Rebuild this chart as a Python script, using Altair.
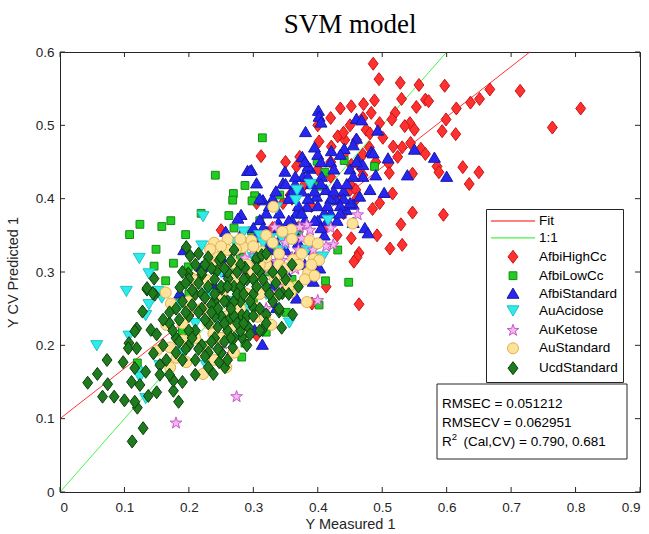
import altair as alt
import pandas as pd

# ---------------- data ----------------
groups = ["AfbiHighCc", "AfbiLowCc", "AfbiStandard", "AuAcidose",
          "AuKetose", "AuStandard", "UcdStandard"]
legend_items = ["Fit", "1:1"] + groups

fit_x = [0.0, 0.729]
fit_y = [0.100, 0.600]
one_x = [0.0, 0.6]
one_y = [0.0, 0.6]

x_ticks = [0.0, 0.1, 0.2, 0.3, 0.4, 0.5, 0.6, 0.7, 0.8, 0.9]
y_ticks = [0.0, 0.1, 0.2, 0.3, 0.4, 0.5, 0.6]

afbi_high = [
    (0.486, 0.584), (0.495, 0.563), (0.528, 0.558), (0.557, 0.555), (0.597, 0.554),
    (0.667, 0.549), (0.714, 0.547), (0.808, 0.523), (0.764, 0.497), (0.530, 0.536),
    (0.567, 0.535), (0.572, 0.533), (0.553, 0.525), (0.615, 0.523), (0.637, 0.531),
    (0.651, 0.536), (0.488, 0.534), (0.471, 0.529), (0.452, 0.526), (0.483, 0.517),
    (0.520, 0.517), (0.515, 0.508), (0.599, 0.508), (0.543, 0.503), (0.535, 0.499),
    (0.550, 0.494), (0.593, 0.492), (0.614, 0.488), (0.496, 0.503), (0.475, 0.494),
    (0.481, 0.489), (0.501, 0.483), (0.517, 0.471), (0.531, 0.470), (0.544, 0.476),
    (0.560, 0.468), (0.567, 0.461), (0.524, 0.457), (0.510, 0.448), (0.511, 0.435),
    (0.547, 0.434), (0.585, 0.444), (0.588, 0.436), (0.625, 0.443), (0.650, 0.436),
    (0.635, 0.420), (0.516, 0.407), (0.496, 0.394), (0.485, 0.386), (0.547, 0.381),
    (0.595, 0.378), (0.529, 0.365), (0.492, 0.350), (0.512, 0.332), (0.531, 0.337),
    (0.464, 0.326), (0.461, 0.320), (0.452, 0.346), (0.464, 0.256), (0.456, 0.314),
    (0.413, 0.280), (0.391, 0.257), (0.346, 0.394), (0.357, 0.405), (0.312, 0.458),
    (0.402, 0.478), (0.350, 0.450), (0.435, 0.523), (0.431, 0.485), (0.442, 0.480),
    (0.421, 0.471), (0.452, 0.446), (0.465, 0.444), (0.450, 0.412), (0.459, 0.412),
    (0.470, 0.432), (0.372, 0.457), (0.367, 0.444), (0.250, 0.357), (0.305, 0.394),
    (0.305, 0.214), (0.250, 0.190), (0.313, 0.296), (0.380, 0.420), (0.400, 0.440),
    (0.420, 0.430), (0.430, 0.400), (0.440, 0.380), (0.410, 0.360), (0.390, 0.390),
    (0.450, 0.420), (0.460, 0.400), (0.470, 0.460), (0.440, 0.460), (0.420, 0.450),
    (0.360, 0.400), (0.330, 0.360), (0.300, 0.340), (0.370, 0.360), (0.430, 0.350),
    (0.480, 0.470), (0.460, 0.480), (0.490, 0.450), (0.450, 0.500), (0.400, 0.500),
    (0.420, 0.510), (0.470, 0.510), (0.440, 0.490),
]

afbi_low = [
    (0.314, 0.483), (0.241, 0.432), (0.287, 0.418), (0.269, 0.407), (0.268, 0.398),
    (0.302, 0.404), (0.298, 0.397), (0.219, 0.380), (0.262, 0.377), (0.172, 0.370),
    (0.158, 0.362), (0.124, 0.365), (0.108, 0.351), (0.195, 0.351), (0.149, 0.331),
    (0.146, 0.308), (0.176, 0.312), (0.297, 0.356), (0.341, 0.405), (0.399, 0.451),
    (0.402, 0.417), (0.441, 0.452), (0.411, 0.436), (0.431, 0.330), (0.488, 0.444),
    (0.412, 0.288), (0.448, 0.286), (0.402, 0.255), (0.164, 0.288), (0.287, 0.203),
    (0.282, 0.184), (0.120, 0.176), (0.351, 0.245), (0.320, 0.218), (0.186, 0.265),
    (0.199, 0.307), (0.220, 0.300), (0.240, 0.260), (0.260, 0.280), (0.300, 0.260),
    (0.320, 0.300), (0.350, 0.350), (0.380, 0.330), (0.250, 0.240), (0.200, 0.270),
    (0.280, 0.320), (0.340, 0.320), (0.360, 0.290), (0.190, 0.220), (0.230, 0.200),
    (0.270, 0.360), (0.310, 0.370), (0.210, 0.290), (0.250, 0.310), (0.270, 0.300),
    (0.330, 0.330), (0.370, 0.350), (0.230, 0.280),
]

afbi_std = [
    (0.401, 0.520), (0.402, 0.512), (0.405, 0.504), (0.381, 0.491), (0.460, 0.509),
    (0.468, 0.507), (0.493, 0.493), (0.421, 0.465), (0.441, 0.468), (0.460, 0.482),
    (0.455, 0.473), (0.483, 0.464), (0.509, 0.455), (0.550, 0.467), (0.581, 0.456),
    (0.600, 0.430), (0.539, 0.432), (0.481, 0.412), (0.503, 0.408), (0.473, 0.360),
    (0.478, 0.353), (0.393, 0.287), (0.403, 0.305), (0.367, 0.264), (0.305, 0.421),
    (0.297, 0.439), (0.349, 0.437), (0.346, 0.421), (0.377, 0.430), (0.388, 0.441),
    (0.406, 0.430), (0.413, 0.412), (0.291, 0.438), (0.295, 0.438), (0.281, 0.378),
    (0.276, 0.373), (0.257, 0.355), (0.192, 0.330), (0.220, 0.307), (0.315, 0.398),
    (0.376, 0.457), (0.385, 0.444), (0.310, 0.371), (0.321, 0.355), (0.339, 0.367),
    (0.367, 0.380), (0.383, 0.389), (0.398, 0.403), (0.429, 0.398), (0.444, 0.385),
    (0.455, 0.367), (0.362, 0.357), (0.336, 0.339), (0.315, 0.330), (0.305, 0.348),
    (0.314, 0.201), (0.268, 0.194), (0.302, 0.221), (0.336, 0.251), (0.186, 0.271),
    (0.287, 0.232), (0.486, 0.462), (0.462, 0.453), (0.470, 0.446), (0.490, 0.432),
    (0.465, 0.403), (0.455, 0.392), (0.450, 0.394), (0.330, 0.400), (0.340, 0.380),
    (0.360, 0.410), (0.370, 0.390), (0.380, 0.370), (0.390, 0.420), (0.400, 0.390),
    (0.410, 0.380), (0.420, 0.400), (0.430, 0.420), (0.440, 0.410), (0.450, 0.440),
    (0.420, 0.450), (0.400, 0.460), (0.380, 0.450), (0.360, 0.350), (0.350, 0.330),
    (0.330, 0.310), (0.310, 0.290), (0.290, 0.310), (0.270, 0.330), (0.280, 0.350),
    (0.300, 0.360), (0.320, 0.380), (0.340, 0.360), (0.370, 0.340), (0.390, 0.330),
    (0.410, 0.350), (0.430, 0.370), (0.460, 0.450), (0.470, 0.430), (0.350, 0.420),
    (0.310, 0.400), (0.260, 0.300), (0.240, 0.280), (0.250, 0.320), (0.290, 0.270),
    (0.330, 0.280), (0.350, 0.300), (0.380, 0.310), (0.400, 0.370), (0.420, 0.380),
    (0.440, 0.400), (0.360, 0.370), (0.320, 0.340), (0.325, 0.390), (0.335, 0.410),
    (0.355, 0.400), (0.365, 0.420), (0.375, 0.410), (0.385, 0.400), (0.395, 0.410),
    (0.405, 0.420), (0.415, 0.390), (0.425, 0.410), (0.435, 0.390), (0.445, 0.420),
    (0.455, 0.430), (0.345, 0.350), (0.355, 0.370), (0.375, 0.380), (0.395, 0.370),
    (0.405, 0.360), (0.415, 0.370), (0.435, 0.380), (0.365, 0.430), (0.385, 0.430),
    (0.405, 0.450), (0.425, 0.440), (0.435, 0.460), (0.395, 0.470), (0.315, 0.360),
    (0.325, 0.330), (0.345, 0.310), (0.365, 0.320),
]

au_acidose = [
    (0.222, 0.376), (0.220, 0.336), (0.123, 0.319), (0.368, 0.412), (0.366, 0.398),
    (0.388, 0.420), (0.416, 0.371), (0.271, 0.341), (0.326, 0.346), (0.351, 0.339),
    (0.383, 0.330), (0.408, 0.321), (0.336, 0.388), (0.103, 0.274), (0.057, 0.200),
    (0.138, 0.298), (0.152, 0.274), (0.138, 0.256), (0.133, 0.241), (0.107, 0.213),
    (0.120, 0.164), (0.133, 0.128), (0.124, 0.157), (0.155, 0.173), (0.356, 0.231),
    (0.279, 0.237), (0.269, 0.209), (0.243, 0.235), (0.227, 0.173), (0.186, 0.255),
    (0.202, 0.246), (0.158, 0.265), (0.250, 0.300), (0.280, 0.280), (0.300, 0.320),
    (0.320, 0.270), (0.290, 0.250), (0.260, 0.260), (0.310, 0.350), (0.340, 0.330),
    (0.330, 0.300), (0.270, 0.310), (0.230, 0.270), (0.210, 0.230), (0.240, 0.220),
    (0.190, 0.190), (0.290, 0.335), (0.315, 0.340), (0.345, 0.345), (0.365, 0.355),
    (0.305, 0.325), (0.285, 0.355),
]

au_ketose = [
    (0.180, 0.094), (0.274, 0.130), (0.253, 0.202), (0.400, 0.261), (0.323, 0.304),
    (0.365, 0.304), (0.323, 0.272), (0.279, 0.300), (0.462, 0.378), (0.424, 0.337),
    (0.413, 0.335), (0.383, 0.364), (0.388, 0.357), (0.375, 0.346), (0.370, 0.330),
    (0.344, 0.316), (0.336, 0.314), (0.333, 0.361), (0.372, 0.361), (0.393, 0.330),
    (0.300, 0.330), (0.287, 0.319), (0.350, 0.340), (0.310, 0.290), (0.290, 0.270),
    (0.340, 0.280), (0.300, 0.310), (0.260, 0.310), (0.360, 0.320), (0.420, 0.360),
    (0.270, 0.260), (0.320, 0.250),
]

au_std = [
    (0.331, 0.389), (0.359, 0.358), (0.387, 0.343), (0.400, 0.339), (0.394, 0.318),
    (0.402, 0.316), (0.362, 0.317), (0.297, 0.343), (0.284, 0.334), (0.273, 0.331),
    (0.239, 0.340), (0.233, 0.331), (0.269, 0.312), (0.313, 0.328), (0.454, 0.366),
    (0.385, 0.299), (0.383, 0.259), (0.333, 0.292), (0.349, 0.290), (0.304, 0.289),
    (0.367, 0.280), (0.358, 0.272), (0.331, 0.266), (0.305, 0.251), (0.328, 0.228),
    (0.164, 0.272), (0.165, 0.228), (0.172, 0.257), (0.204, 0.292), (0.212, 0.289),
    (0.227, 0.289), (0.199, 0.248), (0.196, 0.177), (0.171, 0.170), (0.222, 0.161),
    (0.191, 0.207), (0.307, 0.239), (0.318, 0.239), (0.269, 0.223), (0.258, 0.170),
    (0.238, 0.216), (0.227, 0.195), (0.171, 0.197), (0.181, 0.183), (0.150, 0.193),
    (0.250, 0.270), (0.270, 0.290), (0.290, 0.270), (0.260, 0.240), (0.280, 0.250),
    (0.300, 0.300), (0.320, 0.310), (0.240, 0.310), (0.220, 0.250), (0.210, 0.210),
    (0.230, 0.230), (0.200, 0.260), (0.290, 0.220), (0.310, 0.270), (0.340, 0.310),
    (0.260, 0.330), (0.250, 0.210), (0.270, 0.190), (0.190, 0.230), (0.240, 0.180),
    (0.280, 0.345), (0.300, 0.335), (0.320, 0.320), (0.340, 0.325), (0.350, 0.305),
    (0.370, 0.310), (0.375, 0.325), (0.390, 0.310), (0.360, 0.345), (0.345, 0.355),
    (0.320, 0.350), (0.260, 0.345), (0.250, 0.335), (0.245, 0.320), (0.290, 0.310),
    (0.310, 0.310), (0.330, 0.340), (0.355, 0.280), (0.380, 0.290), (0.395, 0.295),
]

ucd_std = [
    (0.112, 0.069), (0.129, 0.087), (0.120, 0.115), (0.116, 0.123), (0.100, 0.125),
    (0.084, 0.130), (0.066, 0.130), (0.043, 0.149), (0.058, 0.161), (0.074, 0.147),
    (0.073, 0.180), (0.098, 0.177), (0.107, 0.203), (0.106, 0.196), (0.119, 0.196),
    (0.119, 0.223), (0.116, 0.219), (0.128, 0.246), (0.135, 0.276), (0.146, 0.291),
    (0.147, 0.269), (0.141, 0.221), (0.116, 0.169), (0.111, 0.150), (0.124, 0.146),
    (0.133, 0.164), (0.137, 0.131), (0.150, 0.136), (0.155, 0.173), (0.184, 0.123),
    (0.176, 0.138), (0.176, 0.152), (0.145, 0.189), (0.165, 0.180), (0.155, 0.160),
    (0.238, 0.161), (0.256, 0.170), (0.247, 0.177), (0.268, 0.197), (0.282, 0.211),
    (0.293, 0.224), (0.314, 0.221), (0.344, 0.224), (0.361, 0.242), (0.340, 0.246),
    (0.320, 0.242), (0.345, 0.271), (0.300, 0.252), (0.282, 0.241), (0.264, 0.237),
    (0.287, 0.306), (0.261, 0.291), (0.251, 0.277), (0.243, 0.301), (0.220, 0.296),
    (0.199, 0.298), (0.186, 0.279), (0.196, 0.334), (0.202, 0.322), (0.247, 0.316),
    (0.305, 0.316), (0.135, 0.278), (0.144, 0.271), (0.305, 0.319), (0.313, 0.323),
    (0.320, 0.325), (0.190, 0.260), (0.200, 0.240), (0.210, 0.270), (0.210, 0.220),
    (0.220, 0.250), (0.220, 0.200), (0.230, 0.280), (0.230, 0.230), (0.240, 0.260),
    (0.240, 0.210), (0.250, 0.240), (0.250, 0.280), (0.260, 0.220), (0.260, 0.260),
    (0.270, 0.240), (0.270, 0.280), (0.280, 0.220), (0.280, 0.260), (0.290, 0.240),
    (0.290, 0.290), (0.300, 0.270), (0.310, 0.250), (0.320, 0.280), (0.330, 0.260),
    (0.200, 0.200), (0.190, 0.180), (0.210, 0.180), (0.230, 0.190), (0.180, 0.210),
    (0.170, 0.230), (0.160, 0.200), (0.180, 0.250), (0.200, 0.290), (0.220, 0.300),
    (0.240, 0.290), (0.260, 0.300), (0.280, 0.310), (0.250, 0.190), (0.270, 0.210),
    (0.290, 0.200), (0.310, 0.220), (0.230, 0.170), (0.210, 0.160), (0.190, 0.150),
    (0.170, 0.160), (0.260, 0.180), (0.300, 0.240), (0.320, 0.230), (0.340, 0.270),
    (0.350, 0.290), (0.330, 0.300), (0.310, 0.300), (0.250, 0.320), (0.270, 0.330),
    (0.230, 0.320), (0.210, 0.310), (0.190, 0.300), (0.240, 0.240), (0.220, 0.270),
    (0.200, 0.220), (0.180, 0.190), (0.260, 0.280), (0.280, 0.280), (0.300, 0.290),
    (0.360, 0.310), (0.370, 0.280), (0.340, 0.250), (0.240, 0.270), (0.270, 0.260),
    (0.195, 0.285), (0.205, 0.275), (0.215, 0.285), (0.225, 0.265), (0.235, 0.255),
    (0.245, 0.250), (0.255, 0.260), (0.265, 0.250), (0.275, 0.270), (0.285, 0.270),
    (0.295, 0.260), (0.305, 0.280), (0.215, 0.245), (0.225, 0.235), (0.235, 0.245),
    (0.245, 0.225), (0.255, 0.230), (0.265, 0.210), (0.275, 0.230), (0.285, 0.230),
    (0.295, 0.215), (0.205, 0.255), (0.195, 0.245), (0.185, 0.235), (0.175, 0.220),
    (0.185, 0.205), (0.195, 0.195), (0.205, 0.210), (0.215, 0.195), (0.225, 0.185),
    (0.235, 0.205), (0.245, 0.195), (0.255, 0.205), (0.235, 0.305), (0.255, 0.305),
    (0.275, 0.300), (0.265, 0.315), (0.225, 0.310), (0.215, 0.325), (0.285, 0.290),
    (0.305, 0.305), (0.315, 0.290), (0.325, 0.270), (0.335, 0.285), (0.355, 0.270),
    (0.345, 0.300), (0.170, 0.245), (0.160, 0.235), (0.150, 0.215),
]

point_sets = [afbi_high, afbi_low, afbi_std, au_acidose, au_ketose, au_std, ucd_std]

rows = []
for g, pts in zip(groups, point_sets):
    for px, py in pts:
        rows.append({"group": g, "x": px, "y": py})
points_df = pd.DataFrame(rows)

fit_df = pd.DataFrame({"x": fit_x, "y": fit_y})
one_df = pd.DataFrame({"x": one_x, "y": one_y})
xt_df = pd.DataFrame({"t": x_ticks})
yt_df = pd.DataFrame({"t": y_ticks})

# ---------------- style ----------------
W, H = 580, 440
FONT = "Liberation Sans"
AX = "#262626"

LINE = "M-3.4,0L3.4,0"
DIAMOND = "M0,-1L0.76,0L0,1L-0.76,0Z"
SQUARE = "M-0.6,-0.6L0.6,-0.6L0.6,0.6L-0.6,0.6Z"
TRI_UP = "M0,-0.85L0.92,0.72L-0.92,0.72Z"
TRI_DOWN = "M0,0.85L0.92,-0.72L-0.92,-0.72Z"
CIRCLE = "M0.85,0A0.85,0.85,0,1,1,-0.85,0A0.85,0.85,0,1,1,0.85,0Z"
STAR = ("M0,-0.95L0.2234,-0.3074L0.9035,-0.2936L0.3614,0.1174L0.5584,0.7686"
        "L0,0.38L-0.5584,0.7686L-0.3614,0.1174L-0.9035,-0.2936L-0.2234,-0.3074Z")

shapes = [LINE, LINE, DIAMOND, SQUARE, TRI_UP, TRI_DOWN, STAR, CIRCLE, DIAMOND]
fills = ["transparent", "transparent", "#ff3030", "#22cc22", "#2626f0", "#30eaea",
         "#f2b6f2", "#fde29a", "#1e7b1e"]
strokes = ["#ff0000", "#1aee1a", "#c81414", "#128a12", "#1818a8", "#1cc4c4",
           "#c858c8", "#e0b050", "#0b3d0b"]

xs = alt.Scale(domain=[0, 0.9], nice=False, zero=False)
ys = alt.Scale(domain=[0, 0.6], nice=False, zero=False)

fit_line = alt.Chart(fit_df).mark_line(color="#ff0000", strokeWidth=0.8).encode(
    x=alt.X("x:Q", scale=xs,
            axis=alt.Axis(values=x_ticks, format="~g", title="Y Measured 1",
                          titleY=32, titleBaseline="middle")),
    y=alt.Y("y:Q", scale=ys,
            axis=alt.Axis(values=y_ticks, format="~g", title="Y CV Predicted 1",
                          titleX=-47, titleY=H / 2, titleAngle=270,
                          titleAlign="center", titleBaseline="middle")),
)
one_line = alt.Chart(one_df).mark_line(color="#1aee1a", strokeWidth=0.8).encode(
    x=alt.X("x:Q", scale=xs), y=alt.Y("y:Q", scale=ys)
)

pts = alt.Chart(points_df).mark_point(filled=True, opacity=1, size=169, strokeWidth=1).encode(
    x=alt.X("x:Q", scale=xs),
    y=alt.Y("y:Q", scale=ys),
    fill=alt.Fill("group:N", scale=alt.Scale(domain=legend_items, range=fills), title=None),
    stroke=alt.Stroke("group:N", scale=alt.Scale(domain=legend_items, range=strokes), title=None),
    shape=alt.Shape("group:N", scale=alt.Scale(domain=legend_items, range=shapes), title=None),
)

tick_style = dict(color=AX, strokeWidth=1)
xt_bottom = alt.Chart(xt_df).mark_rule(**tick_style).encode(
    x=alt.X("t:Q", scale=xs), y=alt.value(H), y2=alt.value(H - 5))
xt_top = alt.Chart(xt_df).mark_rule(**tick_style).encode(
    x=alt.X("t:Q", scale=xs), y=alt.value(0), y2=alt.value(5))
yt_left = alt.Chart(yt_df).mark_rule(**tick_style).encode(
    y=alt.Y("t:Q", scale=ys), x=alt.value(0), x2=alt.value(5))
yt_right = alt.Chart(yt_df).mark_rule(**tick_style).encode(
    y=alt.Y("t:Q", scale=ys), x=alt.value(W), x2=alt.value(W - 5))

one_row = pd.DataFrame({"k": [0]})
title_txt = alt.Chart(one_row).mark_text(
    text="SVM model", font="Liberation Serif", fontSize=27, color="black",
    align="center", baseline="alphabetic").encode(
    x=alt.value(W / 2), y=alt.value(-19))

box = alt.Chart(one_row).mark_rect(fill="white", stroke=AX, strokeWidth=1).encode(
    x=alt.value(377), x2=alt.value(567), y=alt.value(332), y2=alt.value(407))

txt = dict(font=FONT, fontSize=13.5, color="black", align="left", baseline="middle")
t1 = alt.Chart(one_row).mark_text(text="RMSEC = 0.051212", **txt).encode(
    x=alt.value(382), y=alt.value(352))
t2 = alt.Chart(one_row).mark_text(text="RMSECV = 0.062951", **txt).encode(
    x=alt.value(382), y=alt.value(371))
t3a = alt.Chart(one_row).mark_text(text="R", **txt).encode(
    x=alt.value(382), y=alt.value(390))
t3b = alt.Chart(one_row).mark_text(text="2", font=FONT, fontSize=9.5, color="black",
                                   align="left", baseline="middle").encode(
    x=alt.value(391.8), y=alt.value(384.5))
t3c = alt.Chart(one_row).mark_text(text="(Cal,CV) = 0.790, 0.681", **txt).encode(
    x=alt.value(403.5), y=alt.value(390))

chart = alt.layer(
    fit_line, one_line, pts, xt_bottom, xt_top, yt_left, yt_right,
    box, t1, t2, t3a, t3b, t3c, title_txt
).properties(
    width=W, height=H,
    autosize=alt.AutoSizeParams(type="none"),
    padding={"left": 60, "top": 52, "right": 9, "bottom": 42},
).configure_view(
    stroke=AX, strokeWidth=1
).configure_axis(
    grid=False, domain=False, ticks=False,
    labelFont=FONT, labelFontSize=13.5, labelColor=AX, labelPadding=7,
    titleFont=FONT, titleFontSize=14.5, titleColor=AX, titleFontWeight="normal",
).configure_axisX(labelPadding=8).configure_axisY(labelPadding=6).configure_legend(
    orient="none", legendX=426, legendY=157, padding=5,
    strokeColor=AX, fillColor="white",
    labelFont=FONT, labelFontSize=13.5, labelColor="black", labelLimit=200,
    symbolSize=169, symbolStrokeWidth=1, symbolOffset=15, labelOffset=19,
    rowPadding=2.9,
)

chart.save("out.html", embed_options={"renderer": "svg", "actions": False})
